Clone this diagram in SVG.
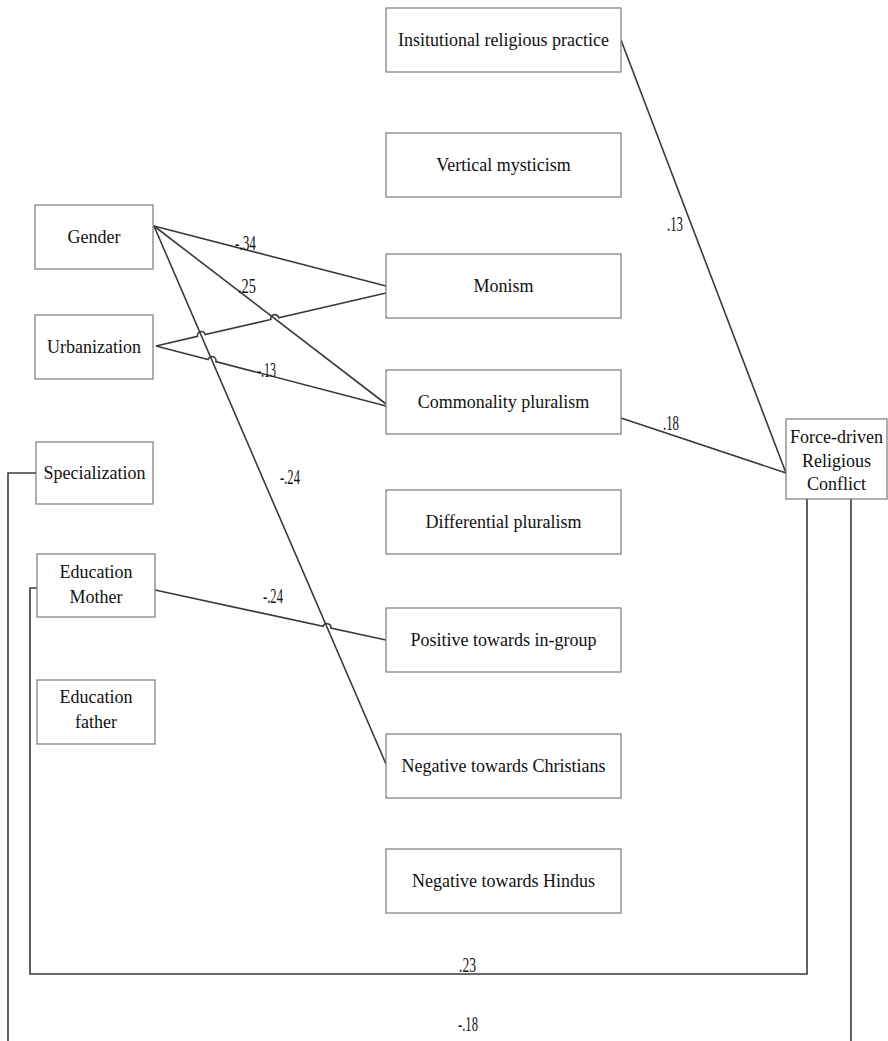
<svg xmlns="http://www.w3.org/2000/svg" width="888" height="1041" viewBox="0 0 888 1041">
<style>
.box{fill:#fff;stroke:#7a7a7a;stroke-width:1.2}
.t{font-family:"Liberation Serif","DejaVu Serif",serif;font-size:18px;fill:#111;text-anchor:middle}
.lbl{font-family:"Liberation Serif","DejaVu Serif",serif;font-size:21px;fill:#111}
.c{fill:none;stroke:#3a3a3a;stroke-width:1.6}
</style>
<rect width="888" height="1041" fill="#fff"/>
<g id="connectors">
<path class="c" d="M154,226 L386,286"/>
<path class="c" d="M154,226 L386,404"/>
<path class="c" d="M154,226 L386,764"/>
<path class="c" d="M156,346 L197.5,336.4 A4,4 0 0 1 205.3,334.6 L270.9,319.5 A4,4 0 0 1 278.7,317.7 L386,293"/>
<path class="c" d="M156,346 L208.1,359.6 A4,4 0 0 1 215.9,361.6 L386,406"/>
<path class="c" d="M155,590 L323.1,626.4 A4,4 0 0 1 330.9,628 L386,640"/>
<path class="c" d="M621,40 L786,473"/>
<path class="c" d="M621,418 L786,473"/>
<path class="c" d="M36,473 H8 V1041"/>
<path class="c" d="M37,588 H30 V974 H807 V499"/>
<path class="c" d="M851,499 V1041"/>
<text class="lbl" x="235" y="250" textLength="21" lengthAdjust="spacingAndGlyphs">-.34</text>
<text class="lbl" x="238" y="293" textLength="18" lengthAdjust="spacingAndGlyphs">.25</text>
<text class="lbl" x="257" y="377" textLength="19" lengthAdjust="spacingAndGlyphs">-.13</text>
<text class="lbl" x="280" y="484" textLength="20" lengthAdjust="spacingAndGlyphs">-.24</text>
<text class="lbl" x="263" y="603" textLength="20" lengthAdjust="spacingAndGlyphs">-.24</text>
<text class="lbl" x="663" y="430" textLength="16" lengthAdjust="spacingAndGlyphs">.18</text>
<text class="lbl" x="667" y="231" textLength="16" lengthAdjust="spacingAndGlyphs">.13</text>
<text class="lbl" x="459" y="972" textLength="17" lengthAdjust="spacingAndGlyphs">.23</text>
<text class="lbl" x="458" y="1031" textLength="20" lengthAdjust="spacingAndGlyphs">-.18</text>
</g>
<g id="n-inst"><rect class="box" x="386" y="8" width="235" height="64"/><text class="t" x="503.5" y="46">Insitutional religious practice</text></g>
<g id="n-vert"><rect class="box" x="386" y="133" width="235" height="64"/><text class="t" x="503.5" y="171">Vertical mysticism</text></g>
<g id="n-monism"><rect class="box" x="386" y="254" width="235" height="64"/><text class="t" x="503.5" y="292">Monism</text></g>
<g id="n-common"><rect class="box" x="386" y="370" width="235" height="64"/><text class="t" x="503.5" y="408">Commonality pluralism</text></g>
<g id="n-diff"><rect class="box" x="386" y="490" width="235" height="64"/><text class="t" x="503.5" y="528">Differential pluralism</text></g>
<g id="n-pos"><rect class="box" x="386" y="608" width="235" height="64"/><text class="t" x="503.5" y="646">Positive towards in-group</text></g>
<g id="n-negc"><rect class="box" x="386" y="734" width="235" height="64"/><text class="t" x="503.5" y="772">Negative towards Christians</text></g>
<g id="n-negh"><rect class="box" x="386" y="849" width="235" height="64"/><text class="t" x="503.5" y="887">Negative towards Hindus</text></g>
<g id="n-gender"><rect class="box" x="35" y="205" width="118" height="64"/><text class="t" x="94" y="243">Gender</text></g>
<g id="n-urban"><rect class="box" x="35" y="315" width="118" height="64"/><text class="t" x="94" y="353">Urbanization</text></g>
<g id="n-spec"><rect class="box" x="36" y="442" width="117" height="62"/><text class="t" x="94.5" y="479">Specialization</text></g>
<g id="n-edmother"><rect class="box" x="37" y="554" width="118" height="63"/><text class="t" x="96" y="578">Education</text><text class="t" x="96" y="603">Mother</text></g>
<g id="n-edfather"><rect class="box" x="37" y="680" width="118" height="64"/><text class="t" x="96" y="703">Education</text><text class="t" x="96" y="728">father</text></g>
<g id="n-force"><rect class="box" x="786" y="419" width="101" height="80"/><text class="t" x="836.5" y="443">Force-driven</text><text class="t" x="836.5" y="467">Religious</text><text class="t" x="836.5" y="490">Conflict</text></g>
</svg>
